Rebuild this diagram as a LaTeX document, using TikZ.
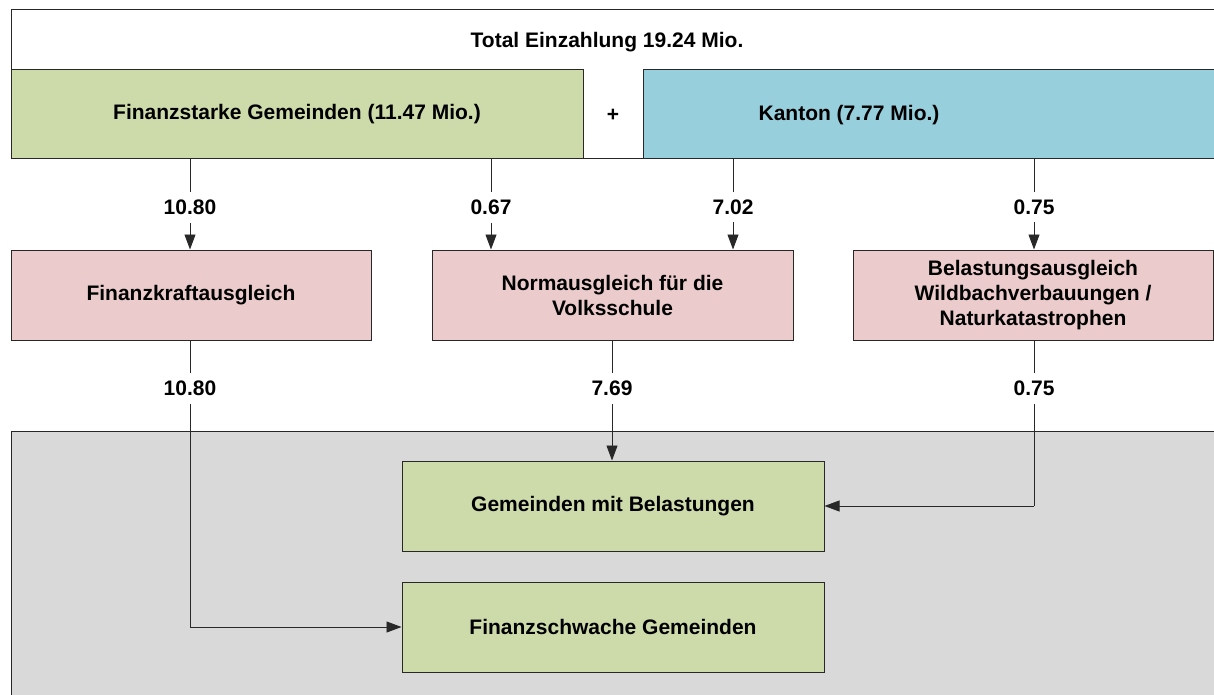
\documentclass[tikz,border=0pt]{standalone}
\usepackage{fontspec}
\setmainfont{Liberation Sans}
\usetikzlibrary{arrows.meta}
\definecolor{cgreen}{RGB}{205,219,171}
\definecolor{cblue}{RGB}{152,207,220}
\definecolor{cpink}{RGB}{235,203,203}
\definecolor{cgray}{RGB}{217,217,217}
\definecolor{cline}{RGB}{40,40,40}
\tikzset{
  txt/.style={font=\fontsize{21}{25}\selectfont\bfseries, align=center, inner sep=0pt},
  boxnode/.style={txt, draw=cline, line width=1pt, minimum height=90pt},
  frame/.style={draw=cline, line width=1pt},
  lbl/.style={txt, fill=white, inner xsep=3pt, inner ysep=8pt},
  arr/.style={draw=cline, line width=0.9pt, -{Triangle[length=15pt,width=11pt]}},
  conn/.style={draw=cline, line width=0.9pt}
}
\begin{document}
\begin{tikzpicture}[x=1pt,y=-1pt]
\useasboundingbox (0,0) rectangle (1214,695);
\clip (0,0) rectangle (1214,695);
% top container
\path[frame, fill=white] (11,10) rectangle (1230,159);
\node[txt] (total) at (607,42) {Total Einzahlung 19.24 Mio.};
\node[boxnode, fill=cgreen, minimum width=572pt, minimum height=89pt] (fs) at (297,114.5) {Finanzstarke Gemeinden (11.47 Mio.)};
\node[txt] (plus) at (613,115) {+};
\path[frame, fill=cblue] (643,70) rectangle (1230,159);
\node[txt] (kt) at (849,115) {Kanton (7.77 Mio.)};
% gray area
\path[frame, fill=cgray] (11,431) rectangle (1230,710);
% pink boxes
\node[boxnode, fill=cpink, minimum width=360pt] (fk) at (191,295) {Finanzkraftausgleich};
\node[boxnode, fill=cpink, minimum width=361pt] (na) at (612.5,295) {Normausgleich für die\\Volksschule};
\node[boxnode, fill=cpink, minimum width=360pt] (ba) at (1033,295) {Belastungsausgleich\\Wildbachverbauungen /\\Naturkatastrophen};
% green targets
\node[boxnode, fill=cgreen, minimum width=422pt] (gmb) at (613,506) {Gemeinden mit Belastungen};
\node[boxnode, fill=cgreen, minimum width=422pt] (fsw) at (613,627) {Finanzschwache Gemeinden};
% helper coordinates
\coordinate (c1) at (190,0);
\coordinate (c2) at (491,0);
\coordinate (c3) at (733,0);
\coordinate (c4) at (1034,0);
\coordinate (c5) at (612,0);
\coordinate (kb) at (733,159);
% top connectors
\draw[arr] (fs.south -| c1) -- node[lbl, pos=0.53] (l1) {10.80} (fk.north -| c1);
\draw[arr] (fs.south -| c2) -- node[lbl, pos=0.53] (l2) {0.67} (na.north -| c2);
\draw[arr] (kb) -- node[lbl, pos=0.53] (l3) {7.02} (na.north -| c3);
\draw[arr] (kb -| c4) -- node[lbl, pos=0.53] (l4) {0.75} (ba.north -| c4);
% lower connectors
\draw[conn] (fk.south -| c1) -- node[lbl, pos=0.167] (l5) {10.80} (fsw.west -| c1);
\draw[arr] (fsw.west -| c1) -- (fsw.west);
\draw[arr] (na.south -| c5) -- node[lbl, pos=0.4] (l6) {7.69} (gmb.north -| c5);
\draw[conn] (ba.south -| c4) -- node[lbl, pos=0.29] (l7) {0.75} (gmb.east -| c4);
\draw[arr] (gmb.east -| c4) -- (gmb.east);
\end{tikzpicture}
\end{document}
